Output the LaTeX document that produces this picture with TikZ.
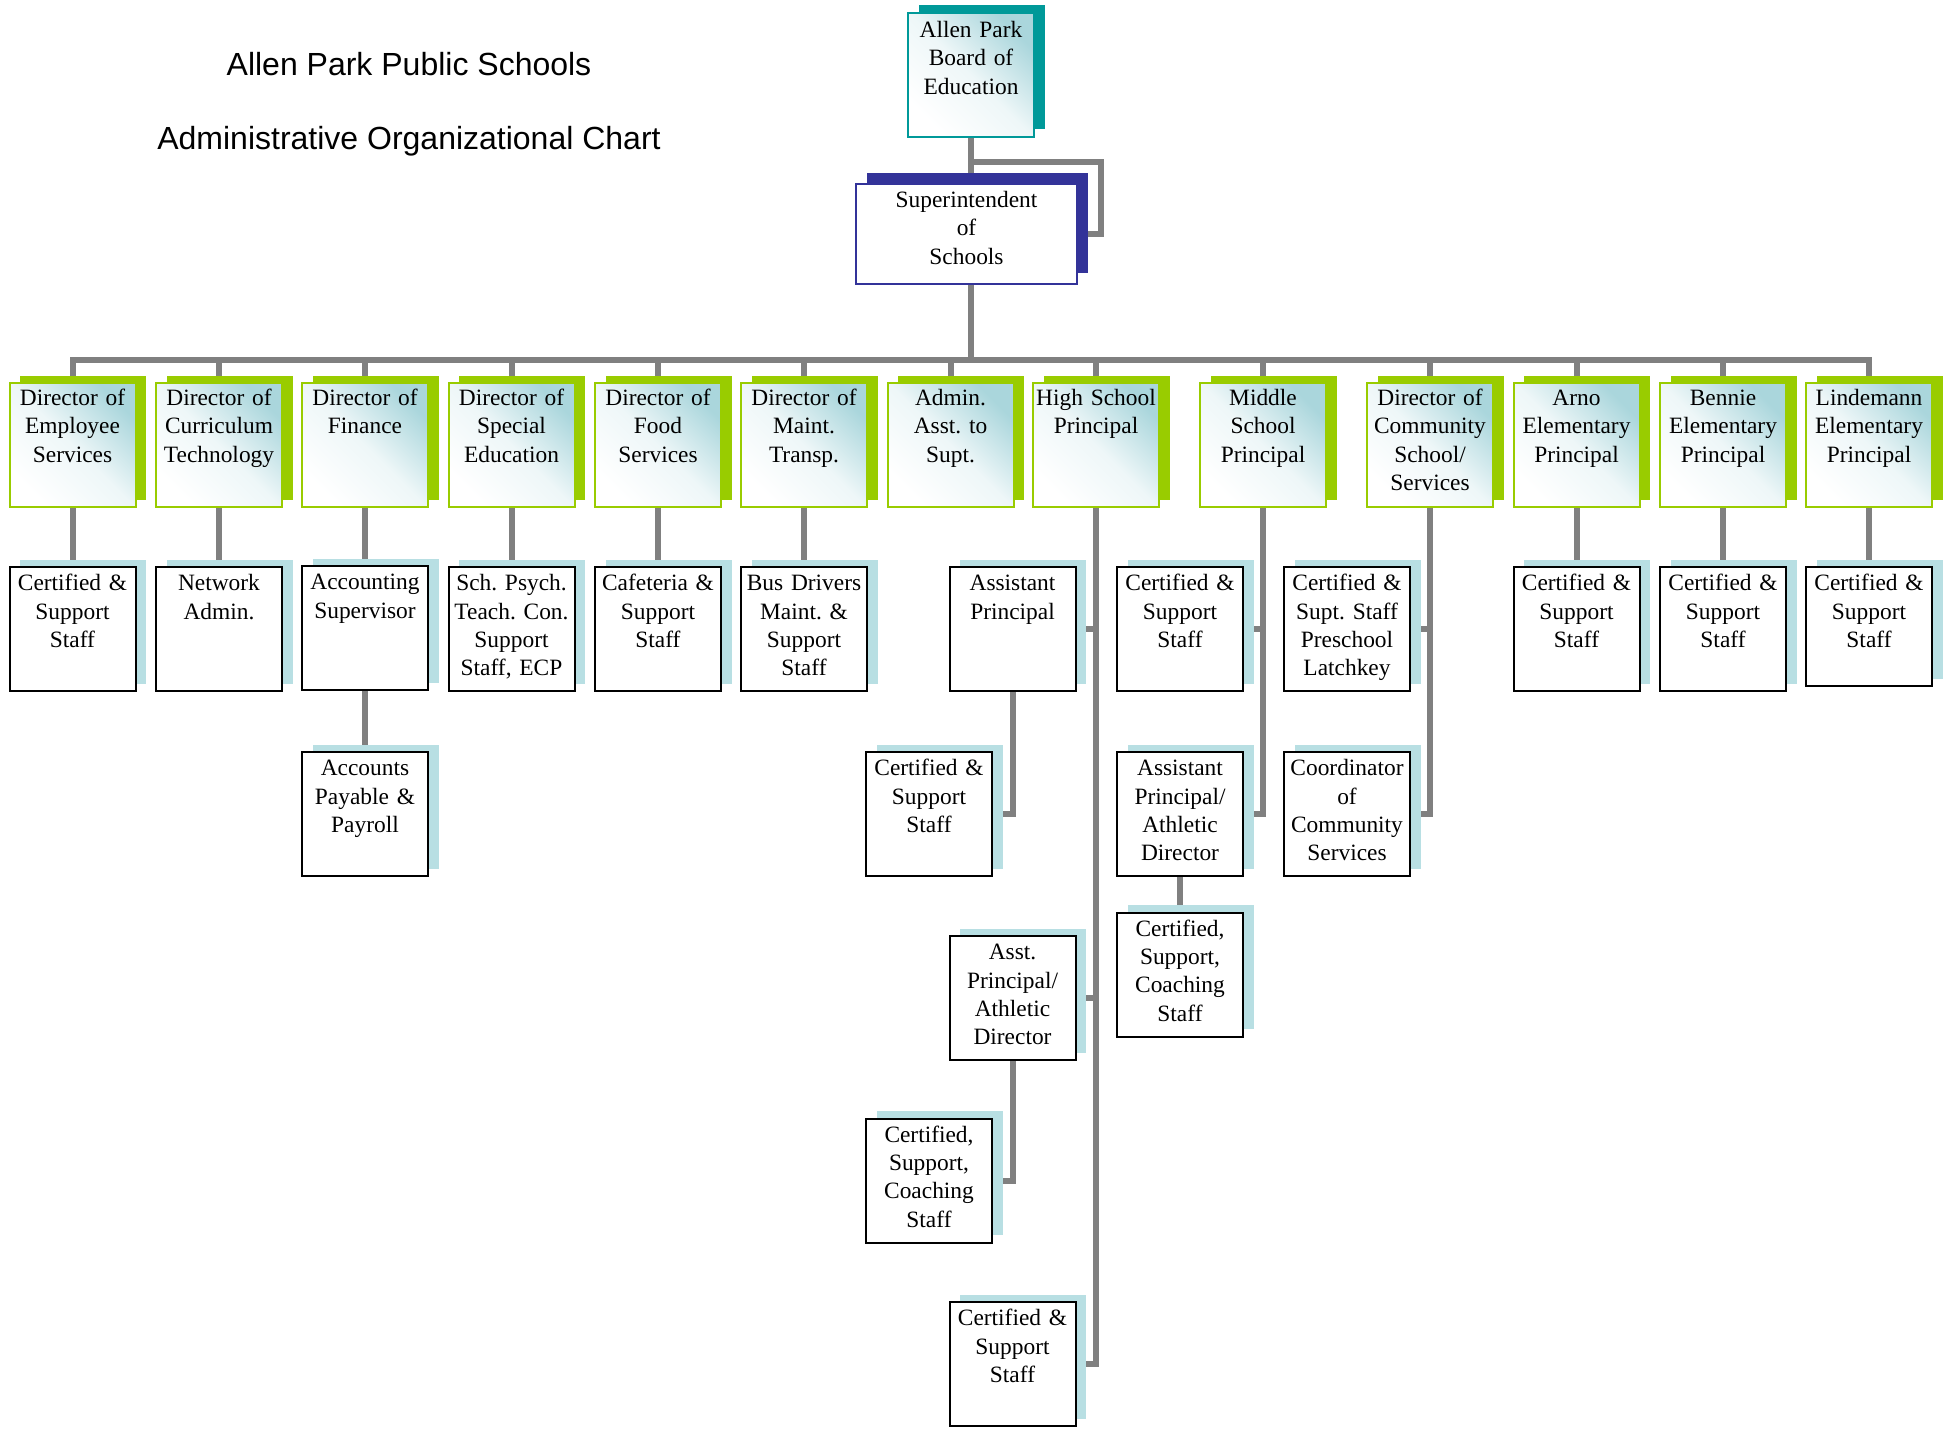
\documentclass[tikz,border=0pt]{standalone}
\usepackage{fontspec}
\setmainfont{Liberation Serif}
\newfontfamily\titlefont{Liberation Sans}
\usetikzlibrary{shadows,backgrounds}
\definecolor{apgreen}{RGB}{153,204,0}
\definecolor{apteal}{RGB}{0,153,153}
\definecolor{apnavy}{RGB}{51,51,153}
\definecolor{apgray}{RGB}{128,128,128}
\definecolor{apblue}{RGB}{170,214,220}
\definecolor{aplight}{RGB}{184,223,227}
\begin{document}
\begin{tikzpicture}[x=0.5pt, y=-0.5pt,
  base node/.style={rectangle, inner sep=0pt, text width=62pt, align=center, minimum width=63pt, font=\fontsize{11.7}{14.2}\selectfont\frenchspacing, line width=1pt},
  dir node/.style={base node, text height=11.2pt, text depth=50.8pt, draw=#1, top color=apblue, bottom color=white, middle color=white!80!apblue, shading angle=-45, general shadow={fill=#1, shadow xshift=5.25pt, shadow yshift=3.75pt}},
  dir node/.default=apgreen,
  staff node/.style={base node, text height=11.8pt, text depth=50.2pt, draw=black, fill=white, general shadow={fill=aplight, shadow xshift=5.25pt, shadow yshift=3.75pt}},
  head node/.style={base node, text width=100pt, minimum width=110.5pt, text height=11.7pt, text depth=38.3pt, draw=apnavy, fill=white, general shadow={fill=apnavy, shadow xshift=5.25pt, shadow yshift=5.5pt}},
  title node/.style={anchor=base, font=\titlefont\fontsize{16}{19}\selectfont},
  link/.style={draw=apgray, line width=3pt, line cap=rect}]
\useasboundingbox (0,0) rectangle (1950,1429);

% title
\node [title node] (t1) at (409,76) {Allen Park Public Schools};
\node [title node] (t2) at (409,150) {Administrative Organizational Chart};

% board and superintendent
\node [dir node=apteal, text height=12.2pt, text depth=49.8pt] (board) at (971,75) {Allen Park\\Board of\\Education};
\node [head node] (sup) at (966.5,234) {Superintendent\\of\\Schools};

% directors
\node [dir node] (d1) at (72.5,445) {Director of\\Employee\\Services};
\node [dir node] (d2) at (219,445) {Director of\\Curriculum\\Technology};
\node [dir node] (d3) at (365,445) {Director of\\Finance};
\node [dir node] (d4) at (511.5,445) {Director of\\Special\\Education};
\node [dir node] (d5) at (658,445) {Director of\\Food\\Services};
\node [dir node] (d6) at (804,445) {Director of\\Maint.\\Transp.};
\node [dir node] (d7) at (950.5,445) {Admin.\\Asst. to\\Supt.};
\node [dir node] (d8) at (1096,445) {High School\\Principal};
\node [dir node] (d9) at (1263,445) {Middle\\School\\Principal};
\node [dir node] (d10) at (1430,445) {Director of\\Community\\School/\\Services};
\node [dir node] (d11) at (1576.5,445) {Arno\\Elementary\\Principal};
\node [dir node] (d12) at (1723,445) {Bennie\\Elementary\\Principal};
\node [dir node] (d13) at (1869,445) {Lindemann\\Elementary\\Principal};

% staff
\node [staff node] (s1) at (72.5,629) {Certified \&\\Support\\Staff};
\node [staff node] (s2) at (219,629) {Network\\Admin.};
\node [staff node] (s3) at (365,628) {Accounting\\Supervisor};
\node [staff node] (s3b) at (365,814) {Accounts\\Payable \&\\Payroll};
\node [staff node] (s4) at (511.5,629) {Sch. Psych.\\Teach. Con.\\Support\\Staff, ECP};
\node [staff node] (s5) at (658,629) {Cafeteria \&\\Support\\Staff};
\node [staff node] (s6) at (804,629) {Bus Drivers\\Maint. \&\\Support\\Staff};
\node [staff node] (hs1) at (1012.5,629) {Assistant\\Principal};
\node [staff node] (hs1a) at (929,814) {Certified \&\\Support\\Staff};
\node [staff node] (hs2) at (1012.5,998) {Asst.\\Principal/\\Athletic\\Director};
\node [staff node] (hs2a) at (929,1180.5) {Certified,\\Support,\\Coaching\\Staff};
\node [staff node] (hs3) at (1012.5,1364) {Certified \&\\Support\\Staff};
\node [staff node] (ms1) at (1180,629) {Certified \&\\Support\\Staff};
\node [staff node] (ms2) at (1180,814) {Assistant\\Principal/\\Athletic\\Director};
\node [staff node] (ms2a) at (1180,974.5) {Certified,\\Support,\\Coaching\\Staff};
\node [staff node] (cs1) at (1347,629) {Certified \&\\Supt. Staff\\Preschool\\Latchkey};
\node [staff node] (cs2) at (1347,814) {Coordinator\\of\\Community\\Services};
\node [staff node] (s11) at (1576.5,629) {Certified \&\\Support\\Staff};
\node [staff node] (s12) at (1723,629) {Certified \&\\Support\\Staff};
\node [staff node, text depth=47.7pt] (s13) at (1869,626.5) {Certified \&\\Support\\Staff};

\coordinate (bus) at (971,360);

\begin{scope}[on background layer]
\draw [link] (board.south) -- (sup.north -| board.south);
\draw [link] ([yshift=-12pt]board.south) -| ([xshift=11.5pt]sup.east) -- (sup.east);
\draw [link] (sup.south -| board.south) -- (bus);
\draw [link] (d1.north |- bus) -- (d13.north |- bus);
\foreach \i in {1,...,13}
  \draw [link] (d\i.north) -- (d\i.north |- bus);
\foreach \i in {1,2,3,4,5,6,11,12,13}
  \draw [link] (d\i.south) -- (s\i.north);
\draw [link] (s3.south) -- (s3b.north);
\draw [link] (d8.south) |- (hs3.east);
\draw [link] (d8.south) |- (hs1.east);
\draw [link] (d8.south) |- (hs2.east);
\draw [link] (hs1.south) |- (hs1a.east);
\draw [link] (hs2.south) |- (hs2a.east);
\draw [link] (d9.south) |- (ms2.east);
\draw [link] (d9.south) |- (ms1.east);
\draw [link] (ms2.south) -- (ms2a.north);
\draw [link] (d10.south) |- (cs2.east);
\draw [link] (d10.south) |- (cs1.east);
\end{scope}
\end{tikzpicture}
\end{document}
